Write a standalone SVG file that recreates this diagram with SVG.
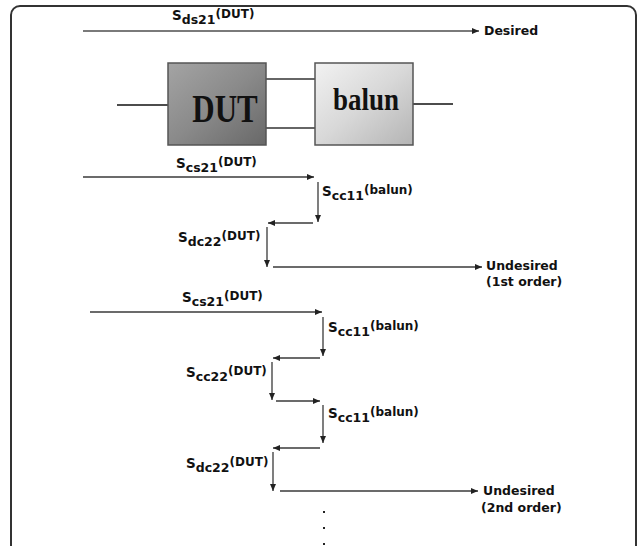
<svg xmlns="http://www.w3.org/2000/svg" width="639" height="546" viewBox="0 0 639 546">
<defs>
<linearGradient id="gDut" x1="0" y1="0" x2="1" y2="1">
<stop offset="0" stop-color="#a4a4a4"/>
<stop offset="0.5" stop-color="#8a8a8a"/>
<stop offset="1" stop-color="#686868"/>
</linearGradient>
<linearGradient id="gBal" x1="0" y1="0" x2="1" y2="1">
<stop offset="0" stop-color="#f2f2f2"/>
<stop offset="0.5" stop-color="#d8d8d8"/>
<stop offset="1" stop-color="#b4b4b4"/>
</linearGradient>
<marker id="ah" markerWidth="7" markerHeight="6" refX="7" refY="3" orient="auto" markerUnits="userSpaceOnUse">
<path d="M0,0 L7,3 L0,6 Z" fill="#222"/>
</marker>
<style>
.lbl{font-family:"DejaVu Sans","Liberation Sans",sans-serif;font-weight:bold;fill:#111}
.s{font-size:13.5px}
.sb{font-size:12.5px}
.sp{font-size:12px}
.out{font-family:"DejaVu Sans","Liberation Sans",sans-serif;font-weight:bold;font-size:12.5px;fill:#111}
.a{stroke:#3a3a3a;stroke-width:1.3;fill:none;marker-end:url(#ah)}
.top{stroke:#7a7a7a;stroke-width:2}
.w{stroke:#111;stroke-width:1.3;fill:none}
.wg{stroke:#666;stroke-width:2;fill:none}
.box{stroke:#555;stroke-width:1.5}
.big{font-family:"Liberation Serif","Times New Roman",serif;font-weight:bold;fill:#111}
</style>
</defs>
<rect x="11" y="6" width="625" height="580" rx="9" fill="#fff" stroke="#333" stroke-width="2"/>

<g id="connectors">
<line x1="83" y1="31" x2="479" y2="31" class="a top"/>
<line x1="117" y1="105" x2="168" y2="105" class="w"/>
<line x1="266" y1="79" x2="315" y2="79" class="wg"/>
<line x1="266" y1="128" x2="315" y2="128" class="wg"/>
<line x1="413" y1="104" x2="453" y2="104" class="w"/>

<line x1="83" y1="177" x2="314" y2="177" class="a"/>
<line x1="318" y1="182" x2="318" y2="222" class="a"/>
<line x1="313" y1="223" x2="268" y2="223" class="a"/>
<line x1="267" y1="227" x2="267" y2="267" class="a"/>
<line x1="273" y1="267" x2="482" y2="267" class="a"/>

<line x1="90" y1="312" x2="322" y2="312" class="a"/>
<line x1="323" y1="317" x2="323" y2="356" class="a"/>
<line x1="320" y1="358" x2="273" y2="358" class="a"/>
<line x1="272" y1="362" x2="272" y2="400" class="a"/>
<line x1="276" y1="401" x2="320" y2="401" class="a"/>
<line x1="323" y1="405" x2="323" y2="443" class="a"/>
<line x1="320" y1="448" x2="273" y2="448" class="a"/>
<line x1="273" y1="452" x2="273" y2="491" class="a"/>
<line x1="280" y1="491" x2="478" y2="491" class="a"/>
</g>

<g id="dut">
<rect x="168" y="63" width="98" height="82" fill="url(#gDut)" class="box"/>
<text class="big" font-size="31" transform="translate(225,122) scale(1,1.3)" text-anchor="middle">DUT</text>
</g>
<g id="balun">
<rect x="315" y="63" width="98" height="82" fill="url(#gBal)" class="box"/>
<text class="big" font-size="27" transform="translate(366,110) scale(1,1.15)" text-anchor="middle">balun</text>
</g>

<g id="labels">
<text class="lbl" x="172" y="20"><tspan class="s">S</tspan><tspan class="sb" dy="4">ds21</tspan><tspan class="sp" dy="-6">(DUT)</tspan></text>
<text class="out" x="484" y="35">Desired</text>

<text class="lbl" x="176" y="168"><tspan class="s">S</tspan><tspan class="sb" dy="4">cs21</tspan><tspan class="sp" dy="-6">(DUT)</tspan></text>
<text class="lbl" x="322" y="196"><tspan class="s">S</tspan><tspan class="sb" dy="4">cc11</tspan><tspan class="sp" dy="-6">(balun)</tspan></text>
<text class="lbl" x="178" y="242"><tspan class="s">S</tspan><tspan class="sb" dy="4">dc22</tspan><tspan class="sp" dy="-6">(DUT)</tspan></text>
<text class="out" x="486" y="270">Undesired</text>
<text class="out" x="486" y="286">(1st order)</text>

<text class="lbl" x="182" y="302"><tspan class="s">S</tspan><tspan class="sb" dy="4">cs21</tspan><tspan class="sp" dy="-6">(DUT)</tspan></text>
<text class="lbl" x="328" y="332"><tspan class="s">S</tspan><tspan class="sb" dy="4">cc11</tspan><tspan class="sp" dy="-6">(balun)</tspan></text>
<text class="lbl" x="186" y="377"><tspan class="s">S</tspan><tspan class="sb" dy="4">cc22</tspan><tspan class="sp" dy="-6">(DUT)</tspan></text>
<text class="lbl" x="328" y="418"><tspan class="s">S</tspan><tspan class="sb" dy="4">cc11</tspan><tspan class="sp" dy="-6">(balun)</tspan></text>
<text class="lbl" x="186" y="468"><tspan class="s">S</tspan><tspan class="sb" dy="4">dc22</tspan><tspan class="sp" dy="-6">(DUT)</tspan></text>
<text class="out" x="483" y="495">Undesired</text>
<text class="out" x="481" y="512">(2nd order)</text>
</g>

<g id="dots" fill="#222">
<rect x="323" y="511" width="2" height="2"/>
<rect x="323" y="527" width="2" height="2"/>
<rect x="323" y="543" width="2" height="2"/>
</g>
</svg>
